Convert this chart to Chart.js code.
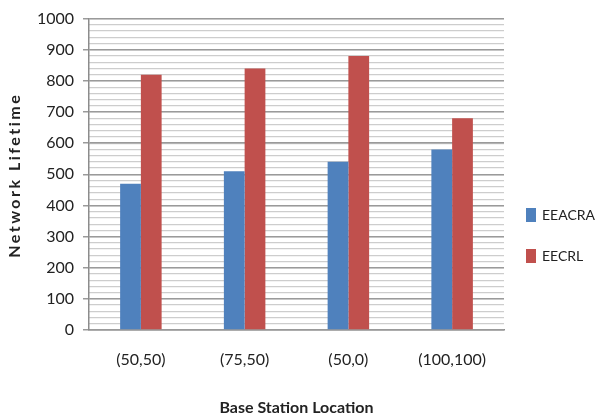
<!DOCTYPE html>
<html>
<head>
<meta charset="utf-8">
<script src="https://cdn.jsdelivr.net/npm/chart.js@4/dist/chart.umd.min.js"></script>
<style>
  html, body { margin: 0; padding: 0; background: #fff; }
  #wrap { width: 596px; height: 418px; }
</style>
</head>
<body>
<div id="wrap"><canvas id="c" width="596" height="418"></canvas></div>
<script>
// Network lifetime per base station location
const categories = ['(50,50)', '(75,50)', '(50,0)', '(100,100)'];
const eeacra = [470, 510, 540, 580];
const eecrl = [820, 840, 880, 680];
const seriesNames = ['EEACRA', 'EECRL'];
const yTicks = [0, 100, 200, 300, 400, 500, 600, 700, 800, 900, 1000];
const yTitle = 'Network Lifetime';
const xTitle = 'Base Station Location';

const FONT = 'Lato, "Open Sans", sans-serif';
const TEXT = '#222';

// Legend at the right of the plot, and a letter-spaced vertical axis title
const sideDecor = {
  id: 'sideDecor',
  afterDraw(chart) {
    const ctx = chart.ctx;
    ctx.save();
    ctx.font = '14px ' + FONT;
    ctx.textBaseline = 'middle';
    chart.data.datasets.forEach((ds, i) => {
      const y = 215 + i * 41;
      ctx.fillStyle = ds.backgroundColor;
      ctx.fillRect(526, y - 7, 10, 14);
      ctx.fillStyle = TEXT;
      ctx.fillText(ds.label, 542, y);
    });
    ctx.restore();

    const area = chart.chartArea;
    ctx.save();
    ctx.translate(15, (area.top + area.bottom) / 2 + 1);
    ctx.rotate(-Math.PI / 2);
    ctx.font = 'bold 16px ' + FONT;
    ctx.letterSpacing = '2.5px';
    ctx.textAlign = 'center';
    ctx.textBaseline = 'middle';
    ctx.fillStyle = TEXT;
    ctx.fillText(yTitle, 0, 0);
    ctx.restore();
  }
};

new Chart(document.getElementById('c'), {
  type: 'bar',
  data: {
    labels: categories,
    datasets: [
      { label: seriesNames[0], data: eeacra, backgroundColor: '#4F81BD' },
      { label: seriesNames[1], data: eecrl, backgroundColor: '#C0504D' }
    ]
  },
  options: {
    responsive: false,
    animation: false,
    layout: { padding: { top: 17, right: 92, left: 0, bottom: 0 } },
    datasets: { bar: { categoryPercentage: 0.4, barPercentage: 1.0 } },
    plugins: { legend: { display: false }, tooltip: { enabled: false } },
    scales: {
      x: {
        grid: { display: false },
        border: { display: true, color: '#8c8c8c', width: 1.5 },
        ticks: { color: TEXT, font: { family: FONT, size: 16 }, padding: 12 },
        title: {
          display: true, text: xTitle, color: TEXT,
          font: { family: FONT, size: 16, weight: 'bold' }, padding: { top: 10, bottom: 1 }
        },
        afterFit(s) { s.height = 88; }
      },
      y: {
        min: 0, max: 1000,
        afterBuildTicks(s) { s.ticks = yTicks.map(v => ({ value: v })); },
        grid: { color: '#9a9a9a', lineWidth: 1.5, tickLength: 6, tickColor: '#9a9a9a', z: 0 },
        border: { display: true, color: '#8c8c8c', width: 1.5 },
        ticks: {
          color: TEXT, font: { family: FONT, size: 16 }, padding: 9,
          callback: v => String(v)
        },
        afterFit(s) { s.width = 89; }
      },
      yMinor: {
        position: 'right',
        min: 0, max: 1000,
        ticks: { display: false, stepSize: 20 },
        grid: { color: '#cdcdcd', lineWidth: 1.2, drawTicks: false },
        border: { display: false },
        afterFit(s) { s.width = 0; }
      }
    }
  },
  plugins: [sideDecor]
});
</script>
</body>
</html>
